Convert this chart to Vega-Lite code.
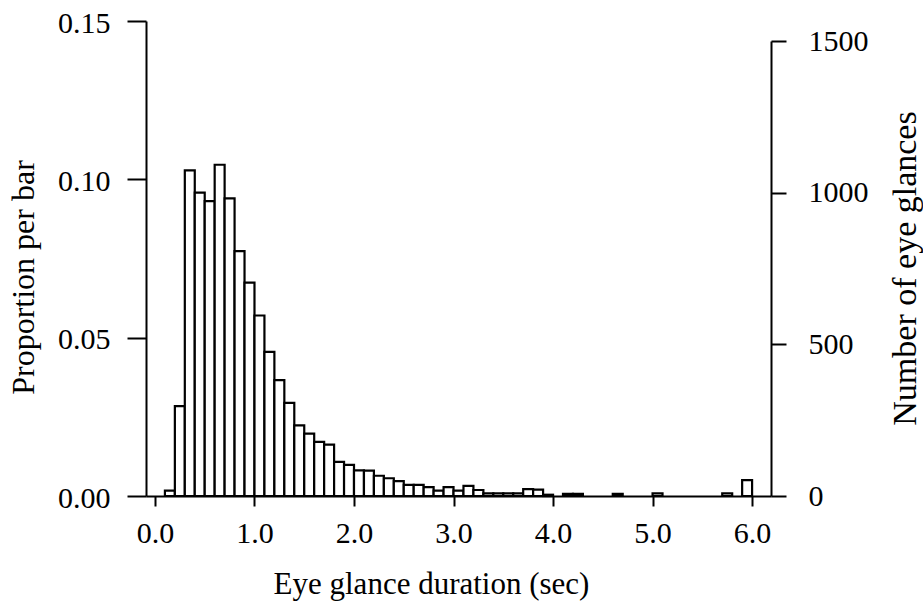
{
  "$schema": "https://vega.github.io/schema/vega-lite/v6.json",
  "width": 625,
  "height": 475,
  "autosize": "none",
  "padding": {"left": 146, "top": 21, "right": 152, "bottom": 105},
  "background": "white",
  "config": {
    "view": {"stroke": null},
    "font": "Liberation Serif",
    "axis": {
      "grid": false,
      "domainColor": "black",
      "domainWidth": 2,
      "tickColor": "black",
      "tickWidth": 2,
      "labelColor": "black",
      "titleColor": "black",
      "labelFont": "Liberation Serif",
      "titleFont": "Liberation Serif",
      "labelFontSize": 30,
      "titleFontSize": 31,
      "titleFontWeight": "normal"
    }
  },
  "data": {
    "values": [
      {"start": 0.1, "end": 0.2, "prop": 0.0017, "count": 17},
      {"start": 0.2, "end": 0.3, "prop": 0.0284, "count": 284},
      {"start": 0.3, "end": 0.4, "prop": 0.1028, "count": 1028},
      {"start": 0.4, "end": 0.5, "prop": 0.0958, "count": 958},
      {"start": 0.5, "end": 0.6, "prop": 0.0931, "count": 931},
      {"start": 0.6, "end": 0.7, "prop": 0.1046, "count": 1046},
      {"start": 0.7, "end": 0.8, "prop": 0.094, "count": 940},
      {"start": 0.8, "end": 0.9, "prop": 0.0773, "count": 773},
      {"start": 0.9, "end": 1.0, "prop": 0.0674, "count": 674},
      {"start": 1.0, "end": 1.1, "prop": 0.057, "count": 570},
      {"start": 1.1, "end": 1.2, "prop": 0.0455, "count": 455},
      {"start": 1.2, "end": 1.3, "prop": 0.0366, "count": 366},
      {"start": 1.3, "end": 1.4, "prop": 0.0294, "count": 294},
      {"start": 1.4, "end": 1.5, "prop": 0.0223, "count": 223},
      {"start": 1.5, "end": 1.6, "prop": 0.0197, "count": 197},
      {"start": 1.6, "end": 1.7, "prop": 0.0171, "count": 171},
      {"start": 1.7, "end": 1.8, "prop": 0.0162, "count": 162},
      {"start": 1.8, "end": 1.9, "prop": 0.0108, "count": 108},
      {"start": 1.9, "end": 2.0, "prop": 0.0098, "count": 98},
      {"start": 2.0, "end": 2.1, "prop": 0.0081, "count": 81},
      {"start": 2.1, "end": 2.2, "prop": 0.008, "count": 80},
      {"start": 2.2, "end": 2.3, "prop": 0.0064, "count": 64},
      {"start": 2.3, "end": 2.4, "prop": 0.0056, "count": 56},
      {"start": 2.4, "end": 2.5, "prop": 0.0047, "count": 47},
      {"start": 2.5, "end": 2.6, "prop": 0.0035, "count": 35},
      {"start": 2.6, "end": 2.7, "prop": 0.0035, "count": 35},
      {"start": 2.7, "end": 2.8, "prop": 0.0028, "count": 28},
      {"start": 2.8, "end": 2.9, "prop": 0.0017, "count": 17},
      {"start": 2.9, "end": 3.0, "prop": 0.0028, "count": 28},
      {"start": 3.0, "end": 3.1, "prop": 0.0017, "count": 17},
      {"start": 3.1, "end": 3.2, "prop": 0.0032, "count": 32},
      {"start": 3.2, "end": 3.3, "prop": 0.0019, "count": 19},
      {"start": 3.3, "end": 3.4, "prop": 0.0008, "count": 8},
      {"start": 3.4, "end": 3.5, "prop": 0.0008, "count": 8},
      {"start": 3.5, "end": 3.6, "prop": 0.0008, "count": 8},
      {"start": 3.6, "end": 3.7, "prop": 0.0008, "count": 8},
      {"start": 3.7, "end": 3.8, "prop": 0.0022, "count": 22},
      {"start": 3.8, "end": 3.9, "prop": 0.002, "count": 20},
      {"start": 3.9, "end": 4.0, "prop": 0.0004, "count": 4},
      {"start": 4.1, "end": 4.2, "prop": 0.0007, "count": 7},
      {"start": 4.2, "end": 4.3, "prop": 0.0007, "count": 7},
      {"start": 4.6, "end": 4.7, "prop": 0.0007, "count": 7},
      {"start": 5.0, "end": 5.1, "prop": 0.0008, "count": 8},
      {"start": 5.7, "end": 5.8, "prop": 0.0008, "count": 8},
      {"start": 5.9, "end": 6.0, "prop": 0.005, "count": 50}
    ]
  },
  "encoding": {
    "x": {
      "field": "start",
      "type": "quantitative",
      "scale": {"domain": [-0.09, 6.19], "nice": false, "zero": false},
      "axis": {
        "values": [0, 1, 2, 3, 4, 5, 6],
        "format": ".1f",
        "tickSize": 10,
        "labelPadding": 12,
        "title": "Eye glance duration (sec)",
        "titleX": 285,
        "titleY": 97,
        "titleAlign": "center",
        "titleBaseline": "alphabetic",
        "titleAnchor": null
      }
    },
    "x2": {"field": "end"}
  },
  "layer": [
    {
      "mark": {"type": "bar", "fill": "white", "stroke": "black", "strokeWidth": 2.2},
      "encoding": {
        "y": {
          "field": "prop",
          "type": "quantitative",
          "scale": {"domain": [0, 0.15], "nice": false},
          "axis": {
            "orient": "left",
            "values": [0, 0.05, 0.1, 0.15],
            "format": ".2f",
            "tickSize": 19,
            "labelPadding": 17,
            "labelBaseline": "middle",
            "labelOffset": 2,
            "title": "Proportion per bar",
            "titleFontSize": 32,
            "titleAngle": 270,
            "titleX": -123,
            "titleY": 256,
            "titleAlign": "center",
            "titleBaseline": "middle"
          }
        },
        "y2": {"datum": 0}
      }
    },
    {
      "mark": {"type": "bar", "opacity": 0},
      "encoding": {
        "y": {
          "field": "count",
          "type": "quantitative",
          "scale": {"domain": [0, 1500], "nice": false, "range": [475, 20]},
          "axis": {
            "orient": "right",
            "values": [0, 500, 1000, 1500],
            "format": "d",
            "tickSize": 15,
            "labelPadding": 22,
            "labelBaseline": "middle",
            "title": "Number of eye glances",
            "titleFontSize": 34,
            "titleAngle": 270,
            "titleX": 134,
            "titleY": 247,
            "titleAlign": "center",
            "titleBaseline": "middle"
          }
        },
        "y2": {"datum": 0}
      }
    }
  ],
  "resolve": {"scale": {"y": "independent"}}
}
